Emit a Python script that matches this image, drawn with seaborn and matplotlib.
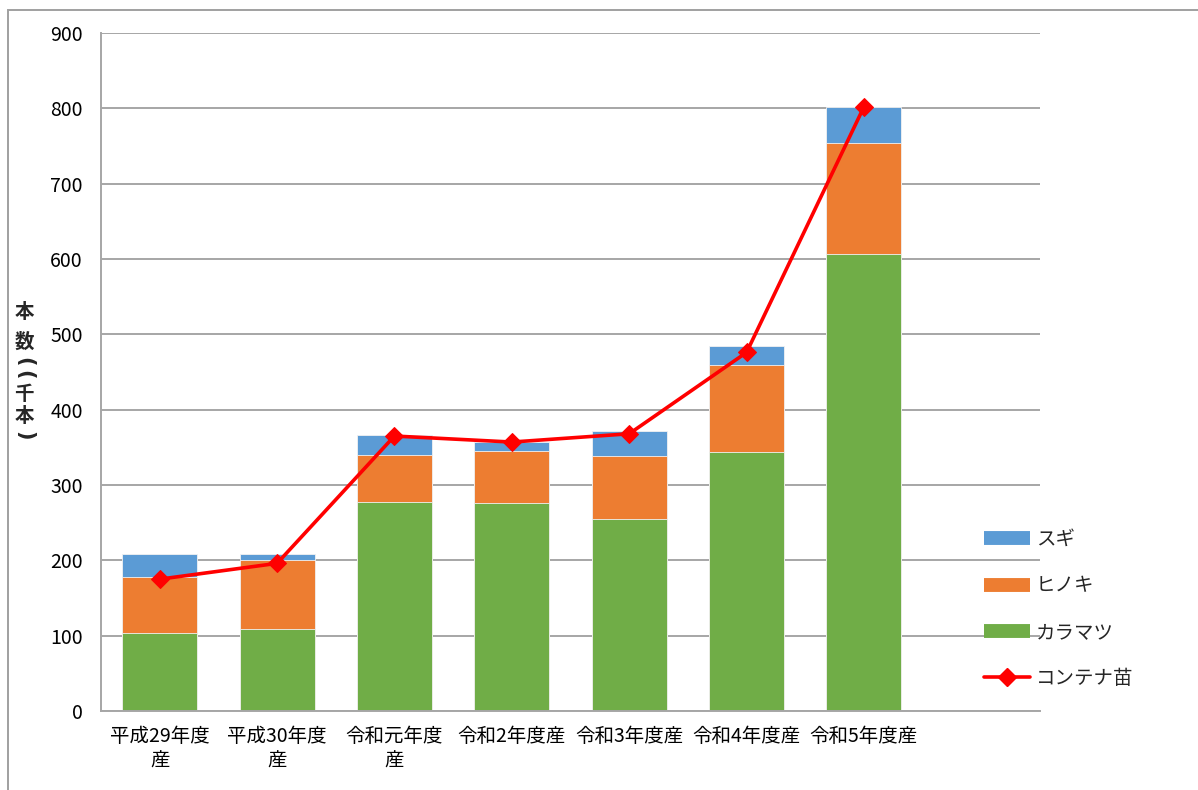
import numpy as np
import pandas as pd
import matplotlib
matplotlib.use("Agg")
import matplotlib.pyplot as plt
from matplotlib.lines import Line2D
from matplotlib.patches import Rectangle
import seaborn as sns

categories = ["平成29年度\n産", "平成30年度\n産", "令和元年度\n産", "令和2年度産",
              "令和3年度産", "令和4年度産", "令和5年度産"]
karamatsu = [103, 109, 278, 276, 255, 344, 607]
hinoki = [75, 91, 62, 69, 83, 115, 147]
sugi = [31, 8, 26, 12, 34, 26, 48]
container = [175, 196, 365, 357, 368, 476, 802]
yticks = [0, 100, 200, 300, 400, 500, 600, 700, 800, 900]
series_names = ["スギ", "ヒノキ", "カラマツ", "コンテナ苗"]
ylabel_chars = ["本", "数", "(", "(", "千", "本", ")"]

c_sugi = "#5B9BD5"
c_hinoki = "#ED7D31"
c_kara = "#70AD47"
c_line = "#FF0000"

sns.set_theme(style="white")
plt.rcParams["font.family"] = ["Noto Sans CJK JP", "DejaVu Sans"]

df = pd.DataFrame({
    "cat": categories,
    "kara": karamatsu,
    "hino": hinoki,
    "sugi": sugi,
    "cont": container,
})
df["lvl2"] = df["kara"] + df["hino"]
df["lvl3"] = df["lvl2"] + df["sugi"]
df["pos"] = np.arange(len(df))

fig = plt.figure(figsize=(11.98, 7.90), dpi=100)
ax = fig.add_axes([101 / 1198, 79 / 790, 939 / 1198, 678 / 790])

bw = 0.64
edge = dict(edgecolor="#F2F2F2", linewidth=0.6)
sns.barplot(data=df, x="cat", y="lvl3", color=c_sugi, width=bw, saturation=1,
            ax=ax, zorder=2, **edge)
sns.barplot(data=df, x="cat", y="lvl2", color=c_hinoki, width=bw, saturation=1,
            ax=ax, zorder=2, **edge)
sns.barplot(data=df, x="cat", y="kara", color=c_kara, width=bw, saturation=1,
            ax=ax, zorder=2, **edge)
sns.lineplot(data=df, x="pos", y="cont", color=c_line, linewidth=2.6,
             marker="D", markersize=9, markeredgecolor=c_line, ax=ax, zorder=4)

ax.set_xlim(-0.5, 7.5)
ax.set_ylim(0, 900)
ax.set_yticks(yticks)
ax.set_yticklabels([str(v) for v in yticks])
ax.set_xticks(df["pos"])
ax.set_xticklabels(categories)
ax.set_xlabel("")
ax.set_ylabel("")
ax.yaxis.grid(True, color="#A6A6A6", linewidth=1.4, zorder=0)
ax.set_axisbelow(True)
for s in ["top", "right"]:
    ax.spines[s].set_visible(False)
for s in ["left", "bottom"]:
    ax.spines[s].set_color("#A6A6A6")
    ax.spines[s].set_linewidth(1.4)
ax.tick_params(axis="y", length=0, pad=13, labelsize=14, labelcolor="black")
ax.tick_params(axis="x", length=0, pad=11, labelsize=14, labelcolor="black")
for t in ax.get_xticklabels():
    t.set_multialignment("center")
    t.set_linespacing(1.2)

# vertical stacked y-axis title (parentheses turned to vertical form)
ylab_y = [313, 342, 362, 375, 394, 416, 436]
for ch, yy in zip(ylabel_chars, ylab_y):
    if ch in ("(", ")"):
        fig.text(24 / 1198, 1 - yy / 790, ch, ha="center", va="center",
                 fontsize=15, fontweight="bold", rotation=-90,
                 family=["DejaVu Sans"])
    else:
        fig.text(24 / 1198, 1 - yy / 790, ch, ha="center", va="center",
                 fontsize=14, fontweight="bold")

handles = [
    Line2D([0], [0], color=c_sugi, lw=10, solid_capstyle="butt"),
    Line2D([0], [0], color=c_hinoki, lw=10, solid_capstyle="butt"),
    Line2D([0], [0], color=c_kara, lw=10, solid_capstyle="butt"),
    Line2D([0], [0], color=c_line, lw=2.6, marker="D", markersize=9),
]
fig.legend(handles, series_names, loc="center left",
           bbox_to_anchor=(966 / 1198, 1 - 609 / 790), frameon=False,
           fontsize=14, handlelength=2.4, handletextpad=0.3, labelspacing=1.3)

fig.patches.append(Rectangle((8 / 1198, -0.1), 1.2, 1.1 - 10 / 790,
                             transform=fig.transFigure, fill=False,
                             edgecolor="#A0A0A0", linewidth=1.4))

fig.savefig("out.png", dpi=100, facecolor="white")
